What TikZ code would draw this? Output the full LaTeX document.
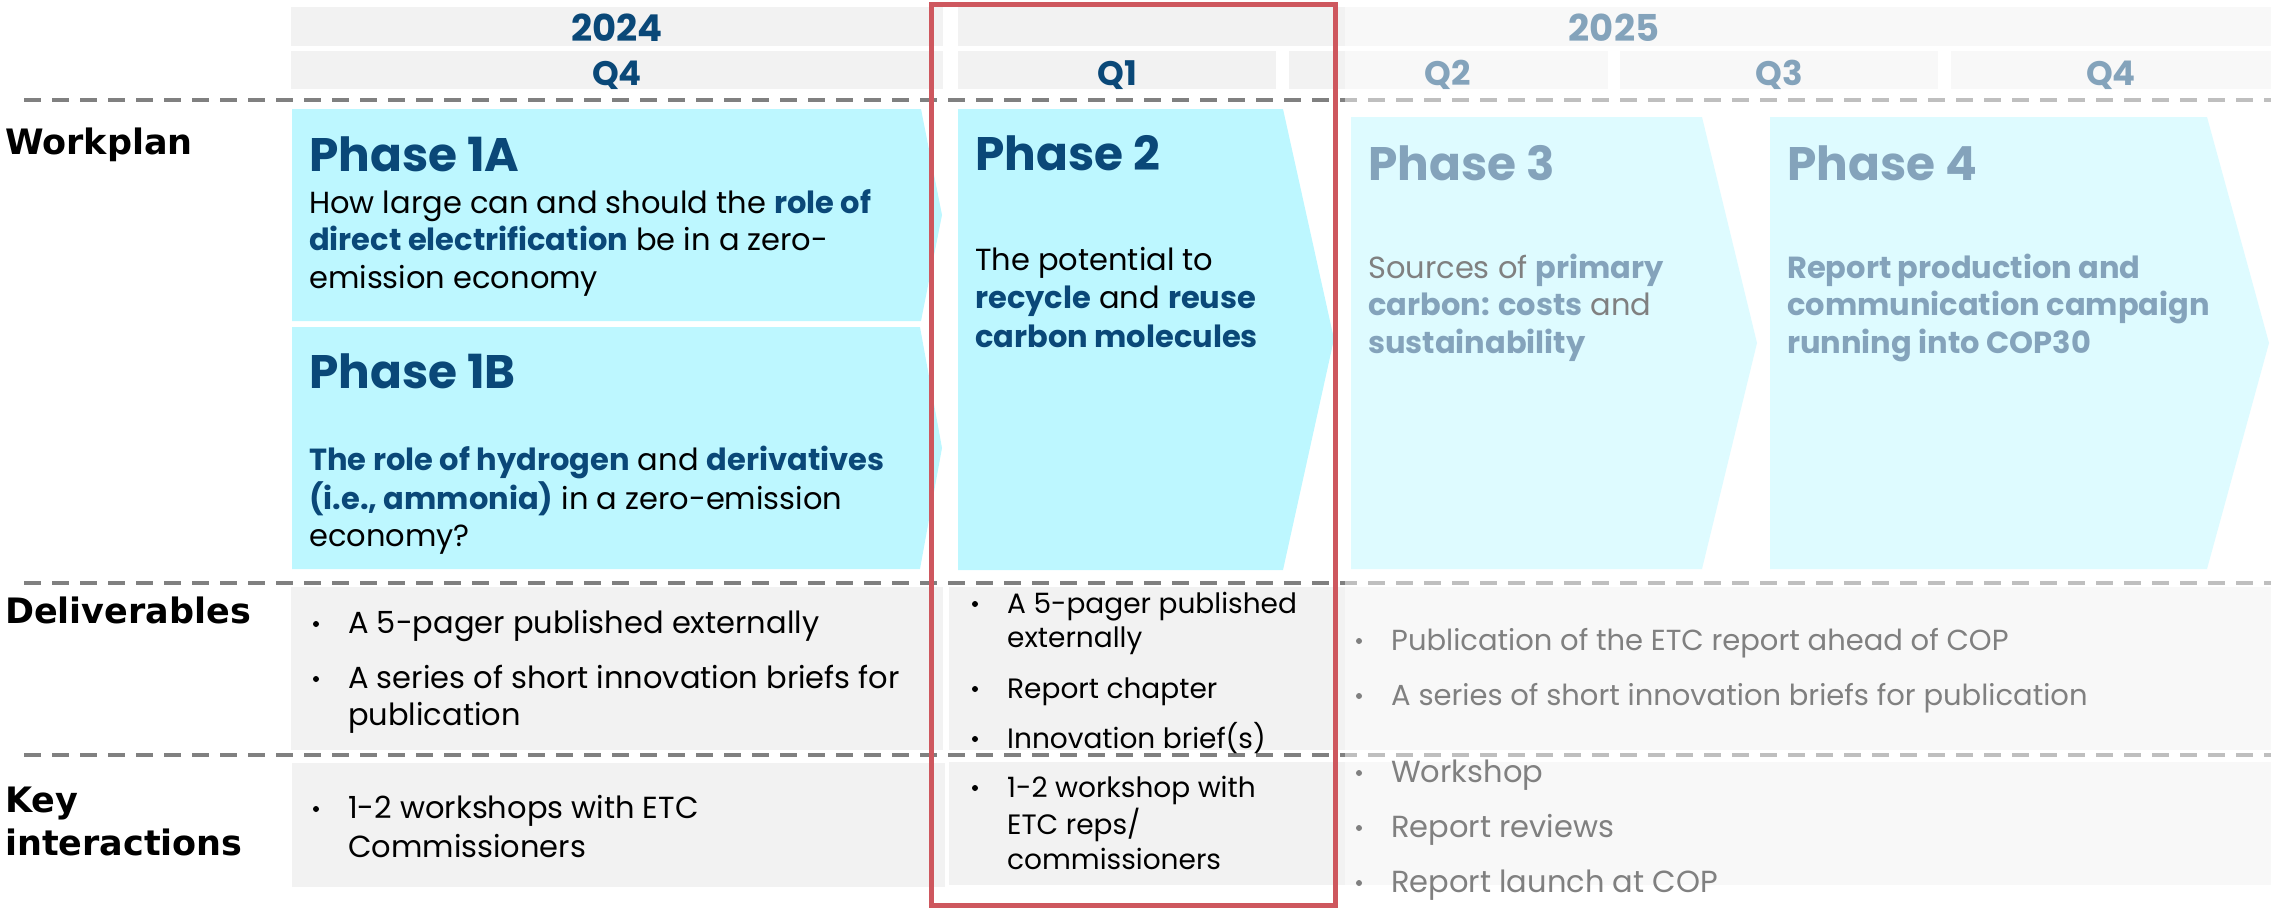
\documentclass[tikz,border=0pt]{standalone}
\usepackage{fontspec}
\setmainfont{Poppins}
\newfontfamily\lblfont{DejaVu Sans}
\definecolor{etcblue}{RGB}{10,72,120}
\definecolor{etccyan}{RGB}{189,247,255}
\definecolor{etcgrey}{RGB}{242,242,242}
\definecolor{etcdash}{RGB}{128,128,128}
\definecolor{etcred}{RGB}{206,87,94}
\newcommand\kw[1]{\textbf{\color{etcblue}#1}}
\newcommand\stack[1]{\begin{tabular}[t]{@{}l@{}}#1\end{tabular}}
\begin{document}
\begin{tikzpicture}[x=1pt, y=-1pt,
    bar/.style={fill=etcgrey},
    phase/.style={fill=etccyan},
    hdr/.style={anchor=base, inner sep=0, text=etcblue, font=\fontsize{34}{40}\selectfont\bfseries},
    rowlbl/.style={anchor=base west, inner sep=0, font=\lblfont\fontsize{35}{43}\selectfont\bfseries},
    ttl/.style={anchor=base west, inner sep=0, text=etcblue, font=\fontsize{47}{52}\selectfont\bfseries},
    txt/.style={anchor=base west, inner sep=0, font=\fontsize{30.5}{37.5}\selectfont},
    sml/.style={txt, font=\fontsize{28}{35}\selectfont},
    bul/.style={circle, fill=black, inner sep=0, minimum size=6pt},
    dline/.style={line width=4pt, etcdash, dash pattern=on 17pt off 11pt}]
    \useasboundingbox (0,0) rectangle (2271,908);
    % header bars
    \fill[bar] (291,7) rectangle (943,46);
    \fill[bar] (958,7) rectangle (2271,46);
    \fill[bar] (291,51) rectangle (943,89);
    \fill[bar] (958,51) rectangle (1276,89);
    \fill[bar] (1289,51) rectangle (1608,89);
    \fill[bar] (1620,51) rectangle (1938,89);
    \fill[bar] (1951,51) rectangle (2271,89);
    \node[hdr, font=\fontsize{37}{40}\selectfont\bfseries] (y24) at (617,41) {2024};
    \node[hdr, font=\fontsize{37}{40}\selectfont\bfseries] (y25) at (1614,41) {2025};
    \node[hdr] (q4a) at (617,85) {Q4};
    \node[hdr] (q1) at (1117,85) {Q1};
    \node[hdr] (q2) at (1448,85) {Q2};
    \node[hdr] (q3) at (1779,85) {Q3};
    \node[hdr] (q4b) at (2111,85) {Q4};
    % row separators
    \foreach \y in {100,583,755}
        \draw[dline] (24,\y) -- (2271,\y);
    % row labels
    \node[rowlbl] (work) at (5,154) {Workplan};
    \node[rowlbl] (deliv) at (5,623) {Deliverables};
    \node[rowlbl] (inter) at (5,812) {\stack{Key\\interactions}};
    % workplan phases
    \fill[phase] (292,109) -- (921,109) -- (942,215) -- (921,321) -- (292,321) -- cycle;
    \fill[phase] (292,327) -- (920,327) -- (942,448) -- (920,569) -- (292,569) -- cycle;
    \fill[phase] (958,109) -- (1283,109) -- (1334,339) -- (1283,570) -- (958,570) -- cycle;
    \fill[phase] (1351,117) -- (1702,117) -- (1757,343) -- (1702,569) -- (1351,569) -- cycle;
    \fill[phase] (1770,117) -- (2207,117) -- (2269,343) -- (2207,569) -- (1770,569) -- cycle;
    \node[ttl] (p1a) at (309,171) {Phase 1A};
    \node[txt] (p1at) at (309,213) {\stack{How large can and should the \kw{role of}\\
        \kw{direct electrification} be in a zero-\\emission economy}};
    \node[ttl] (p1b) at (309,388) {Phase 1B};
    \node[txt] (p1bt) at (309,470) {\stack{\kw{The role of hydrogen} and \kw{derivatives}\\
        \kw{(i.e., ammonia)} in a zero-emission\\economy?}};
    \node[ttl] (p2) at (975,170) {Phase 2};
    \node[txt, font=\fontsize{30.5}{38.5}\selectfont] (p2t) at (975,270) {\stack{The potential to\\
        \kw{recycle} and \kw{reuse}\\\kw{carbon molecules}}};
    \node[ttl] (p3) at (1368,180) {Phase 3};
    \node[txt] (p3t) at (1368,278) {\stack{Sources of \kw{primary}\\\kw{carbon: costs} and\\\kw{sustainability}}};
    \node[ttl] (p4) at (1787,180) {Phase 4};
    \node[txt] (p4t) at (1787,278) {\stack{\kw{Report production and}\\\kw{communication campaign}\\
        \kw{running into COP30}}};
    % deliverables and interactions
    \fill[bar] (291,587) rectangle (943,750);
    \fill[bar] (949,587) rectangle (2271,750);
    \fill[bar] (292,763) rectangle (945,887);
    \fill[bar] (949,762) rectangle (2271,885);
    \node[txt] (d1) at (348,633) {A 5-pager published externally};
    \node[txt, font=\fontsize{30.5}{37}\selectfont] (d2) at (348,688) {\stack{A series of short innovation briefs for\\publication}};
    \node[sml, font=\fontsize{28}{34}\selectfont] (d3) at (1007,613) {\stack{A 5-pager published\\externally}};
    \node[sml] (d4) at (1007,698) {Report chapter};
    \node[sml] (d5) at (1007,748) {Innovation brief(s)};
    \node[txt, font=\fontsize{29}{35}\selectfont] (d6) at (1391,650) {Publication of the ETC report ahead of COP};
    \node[txt, font=\fontsize{29}{35}\selectfont] (d7) at (1391,705) {A series of short innovation briefs for publication};
    \node[txt, font=\fontsize{30.5}{39}\selectfont] (k1) at (348,818) {\stack{1-2 workshops with ETC\\Commissioners}};
    \node[sml, font=\fontsize{28}{35.5}\selectfont] (k2) at (1007,797) {\stack{1-2 workshop with\\ETC reps/\\commissioners}};
    \node[txt] (k3) at (1391,782) {Workshop};
    \node[txt] (k4) at (1391,837) {Report reviews};
    \node[txt] (k5) at (1391,892) {Report launch at COP};
    \foreach \n in {d1,d2,k1,d3,d4,d5,k2,d6,d7,k3,k4,k5}
        \node[bul] at ([xshift=-32pt, yshift=9pt]\n.base west) {};
    % fade the later quarters
    \fill[white, opacity=.5] (1345,0) rectangle (2271,908);
    % focus frame
    \draw[etcred, line width=5pt] (931,4) rectangle (1335,905);
\end{tikzpicture}
\end{document}
